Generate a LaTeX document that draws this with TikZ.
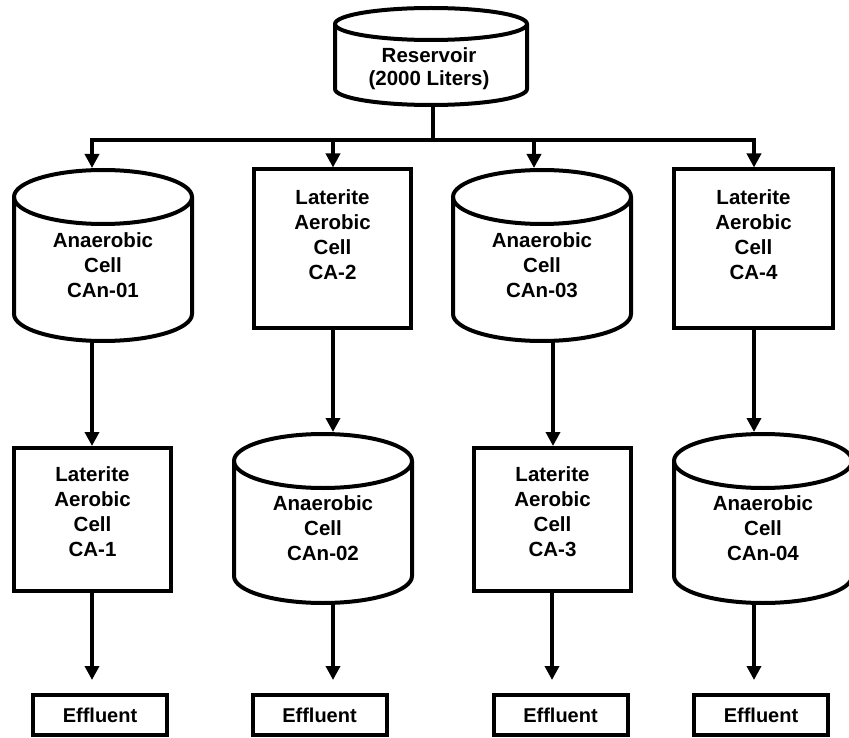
\documentclass[tikz,border=0pt]{standalone}
\usepackage{fontspec}
\setmainfont{Liberation Sans}
\usetikzlibrary{arrows.meta}
\tikzset{
  outline/.style={line width=4pt, line join=round},
  txt/.style={font=\bfseries\fontsize{20.5}{25}\selectfont, align=center, inner sep=0pt},
  rtxt/.style={font=\bfseries\fontsize{20.5}{23.5}\selectfont, align=center, inner sep=0pt},
  boxshape/.style={draw, line width=4pt, inner sep=0pt},
  efbox/.style={draw, line width=4pt, inner sep=0pt, minimum width=134pt, minimum height=40pt,
     font=\bfseries\fontsize{20}{24}\selectfont},
  flow/.style={line width=4pt, -{Triangle[length=14pt,width=14pt]}},
  link/.style={line width=4pt},
}
% cylinder outline: name, cx, top, bottom, rx, ry
\newcommand\cylout[6]{%
  \draw[outline, fill=white] ({#2-#5},{#3+#6}) -- ({#2-#5},{#4-#6})
     arc[start angle=180, end angle=360, x radius=#5pt, y radius=#6pt]
     -- ({#2+#5},{#3+#6});
  \draw[outline] ({#2},{#3+#6}) ellipse[x radius=#5pt, y radius=#6pt];
  \coordinate (#1) at (#2,{(#3+#4)/2});
}
\begin{document}
\begin{tikzpicture}[x=1pt, y=-1pt]
\fill[white] (0,0) rectangle (849,738);
\useasboundingbox (0,0) rectangle (849,738);
\clip (0,0) rectangle (849,738);

% Reservoir
\cylout{res}{431}{8}{105}{96}{16}
\node[rtxt] (rest) at (429,68.5) {Reservoir\\(2000 Liters)};

% Row 1
\cylout{c1}{103}{170}{341}{89}{27}
\node[txt] (c1t) at (103,265) {Anaerobic\\Cell\\CAn-01};
\node[boxshape, minimum width=157pt, minimum height=159pt] (b2) at (332.5,248.5) {};
\node[txt] (b2t) at (332.5,234.5) {Laterite\\Aerobic\\Cell\\CA-2};
\cylout{c3}{542}{170}{341}{89}{27}
\node[txt] (c3t) at (542,265) {Anaerobic\\Cell\\CAn-03};
\node[boxshape, minimum width=159pt, minimum height=159pt] (b4) at (753.5,248.5) {};
\node[txt] (b4t) at (753.5,234.5) {Laterite\\Aerobic\\Cell\\CA-4};

% Row 2
\node[boxshape, minimum width=157pt, minimum height=143pt] (b1) at (92.5,519.5) {};
\node[txt] (b1t) at (92.5,512) {Laterite\\Aerobic\\Cell\\CA-1};
\cylout{c2}{323}{434}{603}{89}{27}
\node[txt] (c2t) at (323,528) {Anaerobic\\Cell\\CAn-02};
\node[boxshape, minimum width=157pt, minimum height=143pt] (b3) at (552.5,519.5) {};
\node[txt] (b3t) at (552.5,512) {Laterite\\Aerobic\\Cell\\CA-3};
\cylout{c4}{763}{434}{603}{89}{27}
\node[txt] (c4t) at (763,528) {Anaerobic\\Cell\\CAn-04};

% Effluents
\node[efbox] (e1) at (100,715) {Effluent};
\node[efbox] (e2) at (319.5,715) {Effluent};
\node[efbox] (e3) at (560.5,715) {Effluent};
\node[efbox] (e4) at (761,715) {Effluent};

% connector coordinates
\coordinate (resout) at (433,105);
\coordinate (split) at (433,140);
\coordinate (j1) at (92,140);
\coordinate (j2) at (333,140);
\coordinate (j3) at (534,140);
\coordinate (j4) at (754,140);
\coordinate (c1in) at (92,168);
\coordinate (b2in) at (333,167.5);
\coordinate (c3in) at (534,168);
\coordinate (b4in) at (754,167.5);
\coordinate (c1out) at (92,341);
\coordinate (b1in) at (92,446);
\coordinate (b2out) at (333,330);
\coordinate (c2in) at (333,432);
\coordinate (c3out) at (553,341);
\coordinate (b3in) at (553,446);
\coordinate (b4out) at (754,330);
\coordinate (c4in) at (754,432);
\coordinate (b1out) at (92,593);
\coordinate (c2out) at (333,603);
\coordinate (b3out) at (552,593);
\coordinate (c4out) at (754,603);
\coordinate (e1in) at (92,680);
\coordinate (e2in) at (333,680);
\coordinate (e3in) at (552,680);
\coordinate (e4in) at (754,680);

\draw[link] (resout) -- (split);
\draw[link, line cap=rect] (j1) -- (j4);
\draw[flow] (j1) -- (c1in);
\draw[flow] (j2) -- (b2in);
\draw[flow] (j3) -- (c3in);
\draw[flow] (j4) -- (b4in);
\draw[flow] (c1out) -- (b1in);
\draw[flow] (b2out) -- (c2in);
\draw[flow] (c3out) -- (b3in);
\draw[flow] (b4out) -- (c4in);
\draw[flow] (b1out) -- (e1in);
\draw[flow] (c2out) -- (e2in);
\draw[flow] (b3out) -- (e3in);
\draw[flow] (c4out) -- (e4in);
\end{tikzpicture}
\end{document}
